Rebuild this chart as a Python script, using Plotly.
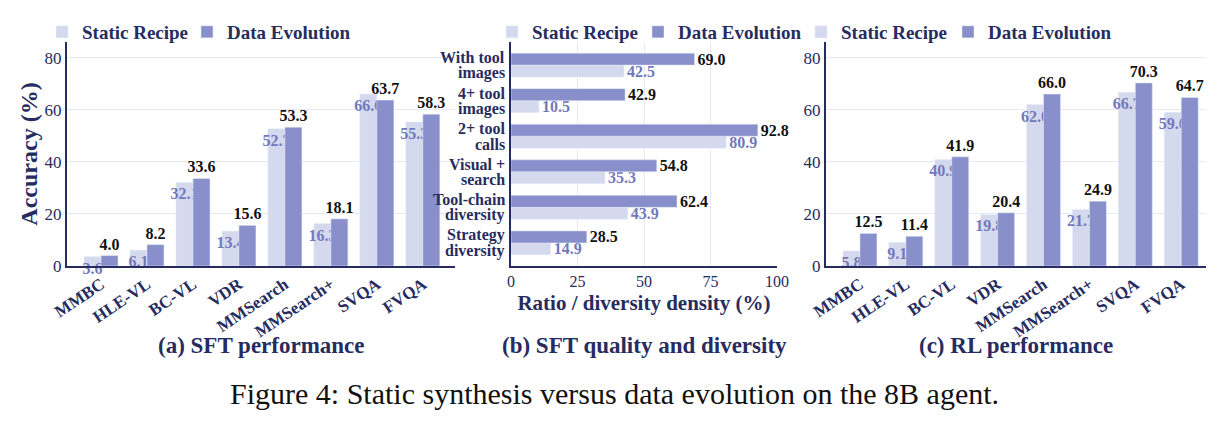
import plotly.graph_objects as go

# ---------------- data ----------------
bench = ["MMBC", "HLE-VL", "BC-VL", "VDR", "MMSearch", "MMSearch+", "SVQA", "FVQA"]
sft_static = [3.6, 6.1, 32.1, 13.4, 52.7, 16.3, 66.0, 55.3]
sft_evo = [4.0, 8.2, 33.6, 15.6, 53.3, 18.1, 63.7, 58.3]
rl_static = [5.8, 9.1, 40.9, 19.8, 62.0, 21.7, 66.7, 59.0]
rl_evo = [12.5, 11.4, 41.9, 20.4, 66.0, 24.9, 70.3, 64.7]
quality_line1 = ["With tool", "4+ tool", "2+ tool", "Visual +", "Tool-chain", "Strategy"]
quality_line2 = ["images", "images", "calls", "search", "diversity", "diversity"]
quality_cats = [a + " " + b for a, b in zip(quality_line1, quality_line2)]
q_static = [42.5, 10.5, 80.9, 35.3, 43.9, 14.9]
q_evo = [69.0, 42.9, 92.8, 54.8, 62.4, 28.5]
acc_ticks = [0, 20, 40, 60, 80]
ratio_ticks = [0, 25, 50, 75, 100]

# ---------------- style ----------------
SERIF = "Liberation Serif"
NAVY = "#262c60"
C_STATIC = "#d5d9ee"
C_EVO = "#888fca"
C_LBL = "#7278bc"
GRID = "#e7e9f6"
W = 1230
H = 425


def px(x):
    return x / W


def py(y):
    return (H - y) / H


fig = go.Figure()

BW = 0.37
lab_font = dict(family=SERIF, size=16, weight="bold")


def add_vertical(xa, ya, static, evo, lg_s, lg_e):
    fig.add_trace(go.Bar(
        x=bench, y=static, name="Static Recipe", marker_color=C_STATIC,
        width=BW, offset=-BW, xaxis=xa, yaxis=ya, legend=lg_s,
        text=[f"{v:.1f}" for v in static], textposition="inside",
        insidetextanchor="end", constraintext="none", textangle=0,
        textfont=dict(lab_font, color=C_LBL), cliponaxis=False,
    ))
    fig.add_trace(go.Bar(
        x=bench, y=evo, name="Data Evolution", marker_color=C_EVO,
        width=BW, offset=0, xaxis=xa, yaxis=ya, legend=lg_e,
        text=[f"{v:.1f}" for v in evo], textposition="outside",
        constraintext="none", textangle=0,
        textfont=dict(lab_font, color="#111111"), cliponaxis=False,
    ))


add_vertical("x", "y", sft_static, sft_evo, "legend", "legend2")
add_vertical("x3", "y3", rl_static, rl_evo, "legend5", "legend6")

BH = 0.337
fig.add_trace(go.Bar(
    y=quality_cats, x=q_static, orientation="h", name="Static Recipe",
    marker_color=C_STATIC, width=BH, offset=0, xaxis="x2", yaxis="y2",
    legend="legend3", text=[f"{v:.1f}" for v in q_static],
    textposition="outside", constraintext="none", textangle=0,
    textfont=dict(lab_font, color=C_LBL), cliponaxis=False,
))
fig.add_trace(go.Bar(
    y=quality_cats, x=q_evo, orientation="h", name="Data Evolution",
    marker_color=C_EVO, width=BH, offset=-BH, xaxis="x2", yaxis="y2",
    legend="legend4", text=[f"{v:.1f}" for v in q_evo],
    textposition="outside", constraintext="none", textangle=0,
    textfont=dict(lab_font, color="#111111"), cliponaxis=False,
))

ydom = [py(266), py(42)]
tickfont_reg = dict(family=SERIF, size=17, color=NAVY)
tickfont_bold = dict(family=SERIF, size=17, color=NAVY, weight="bold")

common_cat_x = dict(type="category", showgrid=False, showline=True, linecolor=NAVY,
                    linewidth=2, ticks="", tickangle=-34, tickfont=tickfont_bold,
                    zeroline=False)
common_val_y = dict(range=[0, 86], tickvals=acc_ticks, showgrid=True, gridcolor=GRID,
                    gridwidth=1, showline=True, linecolor=NAVY, linewidth=2,
                    ticks="", tickfont=tickfont_reg, zeroline=False)

fig.update_layout(
    width=W, height=H, margin=dict(l=0, r=0, t=0, b=0, autoexpand=False),
    paper_bgcolor="white", plot_bgcolor="white",
    barmode="group", showlegend=True,
    font=dict(family=SERIF, color=NAVY),
    xaxis=dict(common_cat_x, domain=[px(67), px(455)], range=[-0.74, 7.7], anchor="y"),
    yaxis=dict(common_val_y, domain=ydom, anchor="x",
               title=dict(text="Accuracy (%)", standoff=0,
                          font=dict(family=SERIF, size=24, color=NAVY, weight="bold"))),
    xaxis3=dict(common_cat_x, domain=[px(826), px(1206)], range=[-0.74, 7.54], anchor="y3"),
    yaxis3=dict(common_val_y, domain=ydom, anchor="x3"),
    xaxis2=dict(domain=[px(511), px(777)], range=[0, 100], tickvals=ratio_ticks,
                showgrid=True, gridcolor=GRID, showline=True, linecolor=NAVY, linewidth=2,
                ticks="", tickfont=dict(family=SERIF, size=16, color=NAVY), zeroline=False,
                anchor="y2",
                title=dict(text="Ratio / diversity density (%)", standoff=6,
                           font=dict(family=SERIF, size=21, color=NAVY, weight="bold"))),
    yaxis2=dict(type="category", domain=ydom, range=[5.65, -0.65], showgrid=False,
                showline=True, linecolor=NAVY, linewidth=2, ticks="",
                showticklabels=False, anchor="x2"),
)

# two-line category labels of panel (b), tighter line spacing than Plotly's <br>
qfont = dict(family=SERIF, size=16, color=NAVY, weight="bold")
for cat, l1, l2 in zip(quality_cats, quality_line1, quality_line2):
    fig.add_annotation(x=px(506), xref="paper", y=cat, yref="y2", text=l1,
                       showarrow=False, xanchor="right", yanchor="middle",
                       yshift=7.5, font=qfont, borderpad=0)
    fig.add_annotation(x=px(506), xref="paper", y=cat, yref="y2", text=l2,
                       showarrow=False, xanchor="right", yanchor="middle",
                       yshift=-8, font=qfont, borderpad=0)

# one legend per entry so that each swatch/text sits where the reference has it
leg_common = dict(orientation="h", yanchor="middle", xanchor="left",
                  font=dict(family=SERIF, size=19, color=NAVY, weight="bold"),
                  bgcolor="rgba(0,0,0,0)", traceorder="normal", itemclick=False,
                  y=py(32))
legend_x = {"legend": 42, "legend2": 187, "legend3": 492, "legend4": 638,
            "legend5": 801, "legend6": 948}
fig.update_layout(**{k: dict(leg_common, x=px(v)) for k, v in legend_x.items()})

cap_font = dict(family=SERIF, size=23, color=NAVY, weight="bold")
for xc, txt in [(261, "(a) SFT performance"), (644, "(b) SFT quality and diversity"),
                (1016, "(c) RL performance")]:
    fig.add_annotation(x=px(xc), y=py(345), xref="paper", yref="paper", text=txt,
                       showarrow=False, font=cap_font, xanchor="center", yanchor="middle")

fig.add_annotation(x=px(614), y=py(393), xref="paper", yref="paper",
                   text="Figure 4: Static synthesis versus data evolution on the 8B agent.",
                   showarrow=False, font=dict(family=SERIF, size=30, color="#111111"),
                   xanchor="center", yanchor="middle")

fig.write_html("out.html")
